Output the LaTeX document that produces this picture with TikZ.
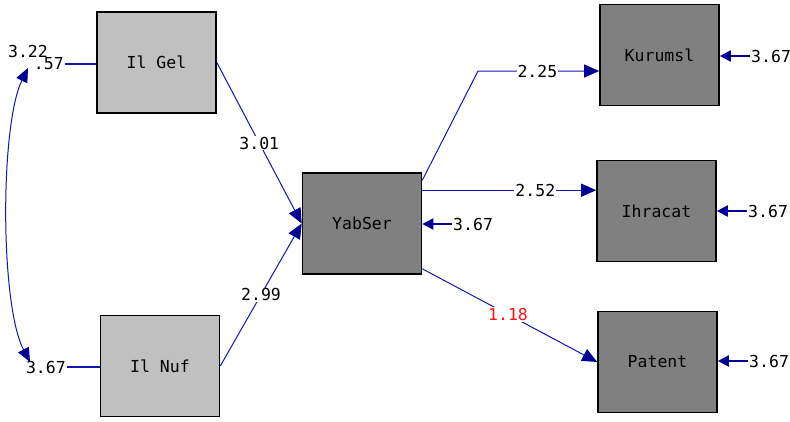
\documentclass[tikz,border=0pt]{standalone}
\usepackage{fontspec}
\setmonofont{DejaVu Sans Mono}
\usetikzlibrary{arrows.meta,calc}
\definecolor{lineblue}{RGB}{20,20,175}
\definecolor{tipblue}{RGB}{0,0,150}
\definecolor{lightbox}{RGB}{192,192,192}
\definecolor{darkbox}{RGB}{128,128,128}
\definecolor{labred}{RGB}{255,20,20}
\begin{document}
\begin{tikzpicture}[x=1pt,y=-1pt,
  every node/.style={font=\ttfamily\fontsize{16.5}{19}\selectfont},
  varbox/.style={draw=black,line width=1.6pt,minimum width=119pt,minimum height=101pt,inner sep=0pt},
  obsx/.style={varbox,fill=lightbox},
  obsy/.style={varbox,fill=darkbox},
  path/.style={draw=lineblue,line width=1pt,-{Triangle[length=15pt,width=13pt,color=tipblue]}},
  plain/.style={draw=lineblue,line width=1.4pt},
  errarrow/.style={draw=tipblue,line width=2pt,-{Triangle[length=11pt,width=11pt,color=tipblue]}},
  corr/.style={draw=lineblue,line width=1pt,{Triangle[length=14pt,width=12pt,color=tipblue]}-{Triangle[length=14pt,width=12pt,color=tipblue]}},
  lab/.style={fill=white,inner sep=1pt},
  errlab/.style={inner sep=1pt,anchor=west}
]
\useasboundingbox (0,0) rectangle (790,421);

% boxes
\node[obsx] (gel) at (156.5,62.5) {Il Gel};
\node[obsx] (nuf) at (160,366) {Il Nuf};
\node[obsy] (yab) at (362,223.5) {YabSer};
\node[obsy] (kur) at (659.5,55) {Kurumsl};
\node[obsy] (ihr) at (656.5,211) {Ihracat};
\node[obsy] (pat) at (657.5,362) {Patent};

% paths into YabSer
\draw[path] (gel.east) -- node[lab,pos=0.5] {3.01} (yab.west);
\draw[path] (nuf.east) -- node[lab,pos=0.5] {2.99} (yab.west);

% paths out of YabSer
\coordinate (ks) at ([yshift=-8pt]yab.north east);
\coordinate (kb) at (478,71);
\draw[path] (ks) -- (kb) -- node[lab,pos=0.49] {2.25} (kur.west |- kb);

\coordinate (is) at ([yshift=-18pt]yab.north east);
\draw[path] (is) -- node[lab,pos=0.65] {2.52} (ihr.west |- is);

\coordinate (ps) at ([yshift=6pt]yab.south east);
\draw[path] (ps) -- node[lab,pos=0.49,text=labred] {1.18} (pat.west);

% error terms of endogenous variables
\node[errlab] (eyab) at (452,224) {3.67};
\draw[errarrow] (eyab.west) -- (yab.east |- eyab.west);
\node[errlab] (ekur) at (750,56) {3.67};
\draw[errarrow] (ekur.west) -- (kur.east |- ekur.west);
\node[errlab] (eihr) at (747,211) {3.67};
\draw[errarrow] (eihr.west) -- (ihr.east |- eihr.west);
\node[errlab] (epat) at (748,361) {3.67};
\draw[errarrow] (epat.west) -- (pat.east |- epat.west);

% variances of exogenous variables
\node[inner sep=1pt,anchor=east] (vgel) at (65,64) {.57};
\draw[plain] (vgel.east) -- (gel.west |- vgel.east);
\node[inner sep=1pt] (cgel) at (28,51) {3.22};
\node[inner sep=1pt,anchor=east] (vnuf) at (67,367) {3.67};
\draw[plain] (vnuf.east) -- (nuf.west |- vnuf.east);

% covariance
\coordinate (c1) at (28,68);
\coordinate (c2) at (30,362);
\draw[corr] (c1) .. controls (0,125) and (0,305) .. (c2);
\end{tikzpicture}
\end{document}
